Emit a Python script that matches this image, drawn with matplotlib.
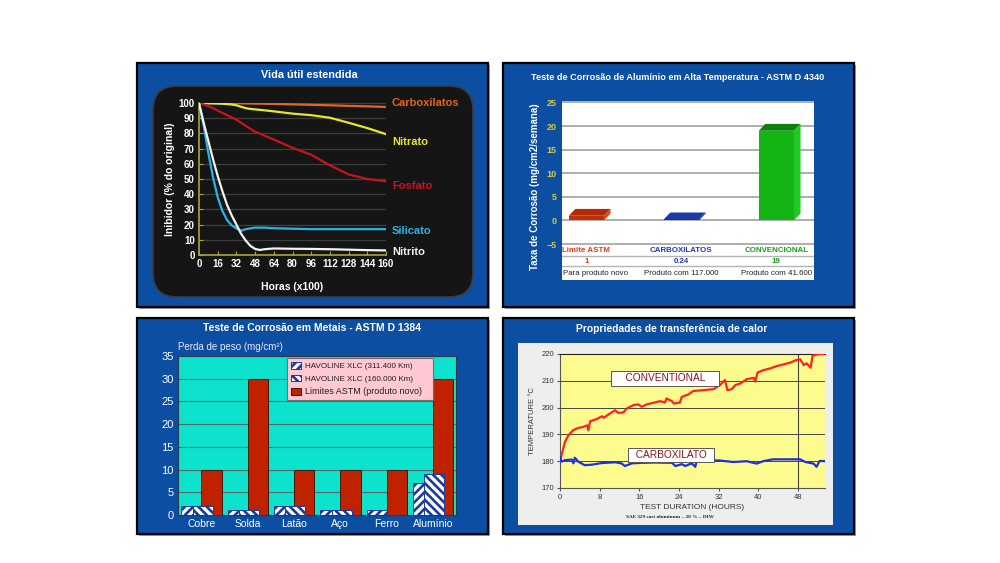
import numpy as np
import matplotlib
matplotlib.use('Agg')
import matplotlib.pyplot as plt
from matplotlib.patches import Rectangle, FancyBboxPatch, Polygon
from matplotlib import font_manager

W, H = 1000, 563
installed = {f.name for f in font_manager.fontManager.ttflist}
NARROW = 'Liberation Sans Narrow' if 'Liberation Sans Narrow' in installed else 'Liberation Sans'
plt.rcParams['font.family'] = ['Liberation Sans', 'DejaVu Sans']
plt.rcParams['hatch.linewidth'] = 1.9

# ---- painel 1 : vida util estendida
horas = [0, 4, 8, 12, 16, 20, 24, 28, 32, 36, 40, 44, 48, 52, 56, 64, 80, 96, 112, 128, 144, 160]
carboxilatos = [100, 100, 100, 100, 100, 100, 99.9, 99.9, 99.8, 99.8, 99.7, 99.7, 99.6, 99.6, 99.5, 99.4, 99.1, 98.8, 98.5, 98.1, 97.8, 97.4]
nitrato = [100, 100, 99.8, 99.7, 99.6, 99.5, 99.3, 99.0, 98.5, 97.5, 96.6, 96.1, 95.8, 95.5, 95.2, 94.5, 93.0, 92.0, 90.3, 87.0, 83.5, 79.5]
fosfato = [100, 99, 98, 96.5, 95, 93.5, 92, 90.5, 89, 87, 85, 83, 81, 80, 78.5, 76, 70.5, 66, 59, 53, 50, 48.5]
silicato = [100, 85, 67, 51, 38, 29, 23, 19.5, 17.5, 16, 17, 17.5, 18, 18, 18, 17.6, 17.3, 17, 17, 17, 17, 17]
nitrito = [100, 87, 75, 63, 52, 42, 33, 26, 20, 14, 9.5, 6, 4, 3.3, 3.8, 4.3, 4.1, 4.0, 3.8, 3.5, 3.2, 3.0]
nomes_p1 = ['Carboxilatos', 'Nitrato', 'Fosfato', 'Silicato', 'Nitrito']
cores_p1 = ['#e2661c', '#e6e62e', '#c8141e', '#2cb2e4', '#f2f2f2']
rotulo_y_p1 = [100, 74.5, 45.5, 15.5, 2]

# ---- painel 2 : ASTM D 4340
grupos_p2 = ['Limite ASTM', 'CARBOXILATOS', 'CONVENCIONAL']
taxa = [1, 0.24, 19]
valores_txt = ['1', '0.24', '19']
notas_p2 = ['Para produto novo', 'Produto com 117.000', 'Produto com 41.600']

# ---- painel 3 : ASTM D 1384
metais = ['Cobre', 'Solda', 'Latão', 'Aço', 'Ferro', 'Alumínio']
km311 = [2, 1, 2, 1, 1, 7]
km160 = [2, 1, 2, 1, 0, 9]
limites = [10, 30, 10, 10, 10, 30]

# ---- painel 4 : transferencia de calor
conv_h = [0, 1, 1.7, 2.7, 3.7, 4.7, 5.5, 5.7, 6.1, 7.4, 8.5, 8.8, 10.1, 11.1, 11.8, 12.8, 13.5, 14.8, 15.8,
          16.5, 17.5, 18.9, 20.2, 21.2, 21.5, 22.6, 23.0, 24.2, 24.6, 25.9, 26.9, 29, 31, 32.3, 33.3, 33.8,
          34.7, 35.4, 36.4, 37.7, 39.1, 39.4, 39.9, 41.1, 42.4, 43.8, 45.1, 46.5, 47.8, 48.5, 49.2, 49.8,
          50.6, 51.0, 52.2, 53.5]
conv_t = [180, 187.2, 189.7, 191.6, 192.4, 192.8, 193.4, 191.6, 194.9, 195.7, 196.8, 196.2, 197.8, 199, 198,
          198.2, 199.7, 200.9, 201.2, 200.3, 201.2, 201.8, 202.4, 201.9, 203.4, 202.4, 201.5, 201.9, 204,
          204.9, 206.2, 206.5, 206.9, 208.4, 210.3, 206.5, 206.9, 208.4, 209, 210.6, 211.1, 209.7, 213.1,
          214, 214.6, 215.5, 216.1, 216.8, 217.8, 218, 215.9, 216.5, 214.9, 219.4, 219.9, 220.1]
carb_h = [0, 0.3, 1.0, 2.4, 2.7, 3.0, 3.7, 5.0, 6.4, 8.4, 11.1, 12.4, 13.1, 14.5, 16.5, 19.2, 22.6, 23.3, 24.6,
          25.3, 26.6, 27.3, 27.6, 28.3, 32, 35, 37.7, 39.7, 41, 43, 47, 48.5, 49.5, 51.2, 51.8, 52.4, 53.5]
carb_t = [181.6, 179.8, 180.4, 180.6, 179.2, 181.3, 179.8, 178.5, 178.7, 179.3, 179.6, 179.2, 178.2, 179.2,
          179.4, 179.5, 179.4, 178.2, 178.9, 178.2, 179.2, 177.9, 180, 180, 180.3, 179.7, 180, 179.1, 180,
          180.7, 180.7, 180.7, 179.7, 179.1, 177.9, 180.1, 180]


def px(x0, y0, x1, y1):
    return [x0 / W, 1 - y1 / H, (x1 - x0) / W, (y1 - y0) / H]


def style_ticks(ax, color, size, family, weight='normal'):
    for lbl in ax.get_xticklabels() + ax.get_yticklabels():
        lbl.set_color(color)
        lbl.set_fontsize(size)
        lbl.set_fontfamily(family)
        lbl.set_fontweight(weight)


fig = plt.figure(figsize=(10, 5.63), dpi=100)
bg = fig.add_axes([0, 0, 1, 1])
bg.set_xlim(0, W)
bg.set_ylim(H, 0)
bg.axis('off')

BLUE = '#0b4ea2'
frames = [(137, 63, 488, 307), (503, 63, 854, 307), (137, 318, 488, 534), (503, 318, 854, 534)]
for x0, y0, x1, y1 in frames:
    bg.add_patch(Rectangle((x0 + 2, y0 + 2), x1 - x0, y1 - y0, fc='#a0a0a0', ec='none'))
    bg.add_patch(Rectangle((x0, y0), x1 - x0, y1 - y0, fc=BLUE, ec='black', lw=1.6))

titulos = ['Vida útil estendida', 'Teste de Corrosão de Alumínio em Alta Temperatura - ASTM D 4340',
           'Teste de Corrosão em Metais - ASTM D 1384', 'Propriedades de transferência de calor']
tpos = [(309, 75, 7.8), (678, 77, 6.6), (312, 328, 7.5), (672, 329, 7.4)]
for t, (x, y, s) in zip(titulos, tpos):
    bg.text(x, y, t, color='white', fontsize=s, fontweight='bold', family=NARROW, ha='center', va='center')

# painel 1
bg.add_patch(FancyBboxPatch((153, 86), 320, 211, boxstyle='round,pad=0,rounding_size=24',
                            fc='#151515', ec='#3c3c3c', lw=1.2))
ax1 = fig.add_axes(px(199, 103, 386, 255))
ax1.set_facecolor('none')
for vals, col in zip([carboxilatos, nitrato, fosfato, silicato, nitrito], cores_p1):
    ax1.plot(horas, vals, color=col, lw=1.6, solid_capstyle='round', zorder=3)
for nome, col, yv in zip(nomes_p1, cores_p1, rotulo_y_p1):
    ax1.text(165, yv, nome, color=col, fontsize=8, fontweight='bold', family=NARROW,
             va='center', ha='left', clip_on=False)
ax1.set_xlim(0, 160)
ax1.set_ylim(0, 100)
ax1.set_xticks(range(0, 161, 16))
ax1.set_yticks(range(0, 101, 10))
ax1.grid(axis='y', color='#3e3e3e', lw=0.9)
for s in ['top', 'right']:
    ax1.spines[s].set_visible(False)
for s in ['left', 'bottom']:
    ax1.spines[s].set_color('#a8a838')
    ax1.spines[s].set_linewidth(1.2)
ax1.tick_params(color='#a8a838', direction='in', length=3, pad=3)
style_ticks(ax1, 'white', 7, NARROW, 'bold')
ax1.text(-0.155, 0.5, 'Inibidor (% do original)', transform=ax1.transAxes, rotation=90, color='white',
         fontsize=7.5, fontweight='bold', family=NARROW, ha='center', va='center')
ax1.text(0.5, -0.21, 'Horas (x100)', transform=ax1.transAxes, color='white',
         fontsize=7.5, fontweight='bold', family=NARROW, ha='center', va='center')

# painel 2
ax2 = fig.add_axes(px(562, 101, 814, 280))
ax2.set_facecolor('white')
pos = np.arange(len(taxa))
ax2.set_xlim(-0.256, 2.397)
ax2.set_ylim(-12.6, 25.3)
for v in range(-5, 26, 5):
    ax2.axhline(v, color='#a8a8a8', lw=1.3, zorder=1)
ax2.axhline(-7.55, color='#b4b4b4', lw=1, zorder=1)
ax2.axhline(-9.7, color='#b4b4b4', lw=1, zorder=1)
frente = ['#c03008', '#10309c', '#14b414']
topo = ['#b02a06', '#1a3aa8', '#0a820a']
lado = ['#e04818', '#0c2888', '#22c822']
cor_txt = ['#e03a14', '#2036c0', '#14a014']
dx, dy = 0.07, 1.45
bars = ax2.bar(pos, taxa, width=0.37, color=frente, zorder=3)
for b, ct, cl in zip(bars, topo, lado):
    x0, y0, w, h = b.get_x(), b.get_y(), b.get_width(), b.get_height()
    ax2.add_patch(Polygon([(x0, y0 + h), (x0 + dx, y0 + h + dy), (x0 + w + dx, y0 + h + dy), (x0 + w, y0 + h)],
                          fc=ct, ec='none', zorder=3))
    ax2.add_patch(Polygon([(x0 + w, y0), (x0 + w + dx, y0 + dy), (x0 + w + dx, y0 + h + dy), (x0 + w, y0 + h)],
                          fc=cl, ec='none', zorder=3))
for p, g, v, n, c in zip(pos, grupos_p2, valores_txt, notas_p2, cor_txt):
    ax2.text(p, -6.3, g, color=c, fontsize=5.7, fontweight='bold', family=NARROW, ha='center', va='center')
    ax2.text(p, -8.65, v, color=c, fontsize=5.7, fontweight='bold', family=NARROW, ha='center', va='center')
    if p == 0:
        ax2.text(-0.245, -11.15, n, color='#222222', fontsize=5.7, family=NARROW, ha='left', va='center')
    else:
        ax2.text(p, -11.15, n, color='#222222', fontsize=5.7, family=NARROW, ha='center', va='center')
ax2.set_xticks([])
ax2.set_yticks(range(-5, 26, 5))
for s in ax2.spines.values():
    s.set_visible(False)
ax2.tick_params(length=0, pad=4)
style_ticks(ax2, '#d8cc44', 6.5, NARROW, 'bold')
ax2.text(-0.107, 0.52, 'Taxa de Corrosão (mg/cm2/semana)', transform=ax2.transAxes, rotation=90,
         color='white', fontsize=7, fontweight='bold', family=NARROW, ha='center', va='center')

# painel 3
ax3 = fig.add_axes(px(178, 356, 456, 515))
ax3.set_facecolor('#0ce2cc')
xm = np.arange(len(metais))
blim = ax3.bar(xm + 0.223, limites, 0.432, color='#c02200', ec='#3a1a10', lw=0.7, zorder=2)
b311 = ax3.bar(xm - 0.209, km311, 0.432, color='white', ec='#1c3a9c', hatch='////', lw=0.7, zorder=3)
b160 = ax3.bar(xm + 0.029, km160, 0.432, color='white', ec='#1c3a9c', hatch='\\\\\\\\', lw=0.7, zorder=4)
ax3.set_xlim(-0.5, 5.5)
ax3.set_ylim(0, 35)
ax3.set_yticks(range(0, 36, 5))
ax3.set_xticks(xm)
ax3.set_xticklabels(metais)
ax3.grid(axis='y', color='#4e6a6a', lw=0.8, zorder=1)
ax3.set_axisbelow(True)
for s in ax3.spines.values():
    s.set_color('#2a3a4a')
    s.set_linewidth(0.8)
ax3.tick_params(length=0, pad=3)
style_ticks(ax3, 'white', 8, 'Liberation Sans')
for lbl in ax3.get_xticklabels():
    lbl.set_fontsize(7.5)
ax3.text(0.0, 1.055, 'Perda de peso (mg/cm²)', transform=ax3.transAxes, color='#e6eaf2',
         fontsize=7, ha='left', va='center')
leg = ax3.legend([b311, b160, blim], ['HAVOLINE XLC (311.400 Km)', 'HAVOLINE XLC (160.000 Km)',
                                      'Limites ASTM (produto novo)'],
                 loc='upper left', bbox_to_anchor=(0.392, 0.734, 0.525, 0.252), mode='expand',
                 fontsize=5.8, fancybox=False, framealpha=1, facecolor='#ffc8d2', edgecolor='#707070',
                 borderpad=0.5, handlelength=1.3, handleheight=0.9, labelspacing=0.55,
                 handletextpad=0.4, borderaxespad=0)
leg.get_frame().set_linewidth(0.8)
for t in leg.get_texts():
    t.set_color('#202020')
leg.get_texts()[2].set_fontsize(6.5)

# painel 4
bg.add_patch(Rectangle((518, 343), 315, 182, fc='#eeeeee', ec='none'))
ax4 = fig.add_axes(px(560, 354, 825, 488))
ax4.set_facecolor('#fcfc8e')
ax4.plot(conv_h, conv_t, color='#ff2222', lw=1.6, zorder=3)
ax4.plot(carb_h, carb_t, color='#1f2fe0', lw=1.6, zorder=3)
ax4.set_xlim(0, 53.5)
ax4.set_ylim(170, 220)
ax4.set_xticks(range(0, 49, 8))
ax4.set_yticks(range(170, 221, 10))
ax4.grid(axis='y', color='#444444', lw=0.7)
ax4.axvline(48, color='#444444', lw=0.8)
ax4.spines['right'].set_visible(False)
ax4.spines['top'].set_color('#222222')
for s in ['left', 'bottom']:
    ax4.spines[s].set_color('#555555')
    ax4.spines[s].set_linewidth(0.8)
ax4.tick_params(color='#555555', length=2, pad=2)
style_ticks(ax4, '#333333', 5.5, NARROW)
ax4.text(21.2, 211, '    CONVENTIONAL    ', color='#84141e', fontsize=7.3, family=NARROW, ha='center',
         va='center', bbox=dict(boxstyle='square,pad=0.25', fc='white', ec='#555555', lw=0.7))
ax4.text(22.4, 182.3, '  CARBOXILATO  ', color='#84141e', fontsize=7.3, family=NARROW, ha='center',
         va='center', bbox=dict(boxstyle='square,pad=0.2', fc='white', ec='#555555', lw=0.7))
ax4.text(-0.102, 0.5, 'TEMPERATURE °C', transform=ax4.transAxes, rotation=90, color='#333333',
         fontsize=5.5, ha='center', va='center')
ax4.text(0.5, -0.142, 'TEST DURATION (HOURS)', transform=ax4.transAxes, color='#333333',
         fontsize=6, ha='center', va='center')
ax4.text(0.415, -0.216, 'SAE 329 cast aluminum – 20 % – DIW', transform=ax4.transAxes, color='#222222',
         fontsize=3.8, family='Liberation Serif', fontweight='bold', ha='center', va='center')

fig.savefig('out.png', dpi=100)
